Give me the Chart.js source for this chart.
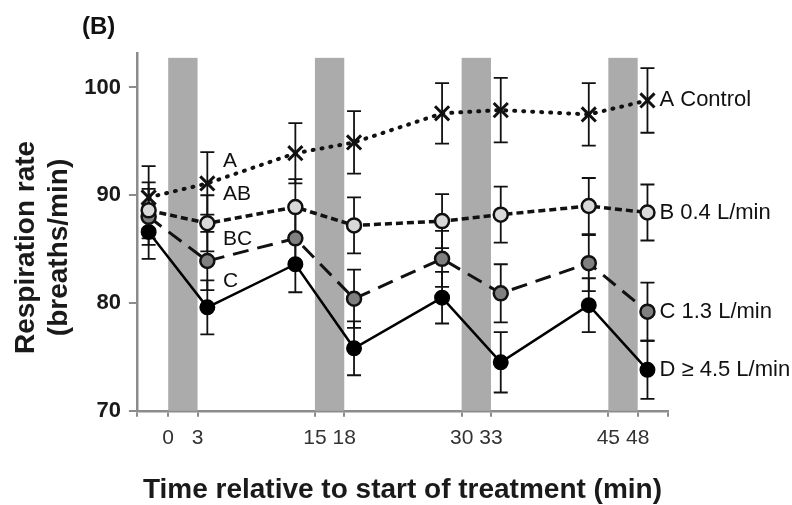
<!DOCTYPE html>
<html lang="en">
<head>
    <meta charset="UTF-8">
    <script src="https://cdn.jsdelivr.net/npm/chart.js"></script>
    <title>Respiration rate</title>
    <style>
        body {
            margin: 0;
            padding: 0;
            background-color: #ffffff;
        }

        .chart-box {
            width: 792px;
            height: 505px;
            position: relative;
        }
    </style>
</head>
<body>
    <div class="chart-box">
        <canvas id="respChart"></canvas>
    </div>

    <script>
        // Dados
        const times = [-2, 4, 13, 19, 28, 34, 43, 49];
        const xTicks = [0, 3, 15, 18, 30, 33, 45, 48];
        const yTicks = [70, 80, 90, 100];
        const bandStarts = [0, 15, 30, 45];
        const bandLength = 3;

        const controlRate = [89.8, 91.1, 93.9, 94.9, 97.6, 97.9, 97.5, 98.8];
        const controlErr = [2.9, 2.9, 2.8, 2.9, 2.8, 3.0, 2.9, 3.0];
        const flow04Rate = [88.6, 87.4, 88.9, 87.2, 87.6, 88.2, 89.0, 88.4];
        const flow04Err = [2.6, 2.6, 2.6, 2.6, 2.5, 2.6, 2.6, 2.6];
        const flow13Rate = [88.0, 83.9, 86.0, 80.4, 84.1, 80.9, 83.7, 79.2];
        const flow13Err = [2.6, 2.7, 2.6, 2.7, 2.6, 2.7, 2.6, 2.7];
        const flow45Rate = [86.6, 79.6, 83.6, 75.8, 80.5, 74.5, 79.8, 73.8];
        const flow45Err = [2.5, 2.5, 2.6, 2.5, 2.4, 2.8, 2.5, 2.7];

        const seriesNames = ['A Control', 'B 0.4 L/min', 'C 1.3 L/min', 'D \u2265 4.5 L/min'];
        const groupLabels = ['A', 'AB', 'BC', 'C'];
        const groupLabelX = [5.6, 5.6, 5.6, 5.6];
        const groupLabelY = [93.2, 90.1, 85.9, 82.0];

        const FONT = "'Liberation Sans', Arial, sans-serif";

        function pontos(valores) {
            return times.map((t, i) => ({ x: t, y: valores[i] }));
        }

        const overlayPlugin = {
            id: 'overlay',
            beforeDatasetsDraw(chart) {
                const { ctx, scales: { x, y } } = chart;
                ctx.save();
                // faixas cinza
                ctx.fillStyle = '#ababab';
                const top = y.getPixelForValue(102.75);
                const bottom = y.getPixelForValue(70);
                bandStarts.forEach(s => {
                    const x0 = x.getPixelForValue(s);
                    const x1 = x.getPixelForValue(s + bandLength);
                    ctx.fillRect(x0, top, x1 - x0, bottom - top);
                });
                // barras de erro
                ctx.strokeStyle = '#111111';
                ctx.lineWidth = 1.8;
                chart.data.datasets.forEach(ds => {
                    ds.data.forEach((p, i) => {
                        const e = ds.errors[i];
                        const px = x.getPixelForValue(p.x);
                        const yHi = y.getPixelForValue(p.y + e);
                        const yLo = y.getPixelForValue(p.y - e);
                        ctx.beginPath();
                        ctx.moveTo(px, yHi);
                        ctx.lineTo(px, yLo);
                        ctx.moveTo(px - 7, yHi);
                        ctx.lineTo(px + 7, yHi);
                        ctx.moveTo(px - 7, yLo);
                        ctx.lineTo(px + 7, yLo);
                        ctx.stroke();
                    });
                });
                ctx.restore();
            },
            afterDatasetsDraw(chart) {
                const { ctx, scales: { x, y } } = chart;
                ctx.save();
                ctx.fillStyle = '#111111';
                ctx.textBaseline = 'middle';
                ctx.textAlign = 'left';
                // nomes das séries à direita
                ctx.font = '22px ' + FONT;
                chart.data.datasets.forEach((ds, i) => {
                    const last = ds.data[ds.data.length - 1];
                    ctx.fillText(seriesNames[i], x.getPixelForValue(last.x) + 12, y.getPixelForValue(last.y));
                });
                // letras de significância
                ctx.font = '21px ' + FONT;
                groupLabels.forEach((txt, i) => {
                    ctx.fillText(txt, x.getPixelForValue(groupLabelX[i]), y.getPixelForValue(groupLabelY[i]));
                });
                // rótulo do painel
                ctx.font = 'bold 24px ' + FONT;
                ctx.fillText('(B)', 82, 27);
                ctx.restore();
            }
        };

        const respChart = new Chart(document.getElementById('respChart').getContext('2d'), {
            type: 'line',
            data: {
                datasets: [
                    {
                        label: seriesNames[0],
                        data: pontos(controlRate),
                        errors: controlErr,
                        borderColor: '#111111',
                        borderWidth: 4,
                        borderDash: [1, 8],
                        borderCapStyle: 'round',
                        pointStyle: 'crossRot',
                        pointRadius: 10,
                        pointBorderWidth: 3,
                        pointBorderColor: '#111111',
                        pointBackgroundColor: '#111111'
                    },
                    {
                        label: seriesNames[1],
                        data: pontos(flow04Rate),
                        errors: flow04Err,
                        borderColor: '#111111',
                        borderWidth: 3.5,
                        borderDash: [7, 4],
                        pointStyle: 'circle',
                        pointRadius: 7,
                        pointBorderWidth: 2.5,
                        pointBorderColor: '#111111',
                        pointBackgroundColor: '#d9d9d9'
                    },
                    {
                        label: seriesNames[2],
                        data: pontos(flow13Rate),
                        errors: flow13Err,
                        borderColor: '#111111',
                        borderWidth: 3,
                        borderDash: [16, 9],
                        pointStyle: 'circle',
                        pointRadius: 7,
                        pointBorderWidth: 2.5,
                        pointBorderColor: '#111111',
                        pointBackgroundColor: '#808080'
                    },
                    {
                        label: seriesNames[3],
                        data: pontos(flow45Rate),
                        errors: flow45Err,
                        borderColor: '#000000',
                        borderWidth: 2.5,
                        pointStyle: 'circle',
                        pointRadius: 7,
                        pointBorderWidth: 2,
                        pointBorderColor: '#000000',
                        pointBackgroundColor: '#000000'
                    }
                ]
            },
            options: {
                responsive: true,
                maintainAspectRatio: false,
                animation: false,
                layout: {
                    padding: { top: 53, right: 124, left: 9, bottom: 0 }
                },
                plugins: {
                    legend: { display: false },
                    tooltip: { enabled: false }
                },
                scales: {
                    x: {
                        type: 'linear',
                        min: -3.2,
                        max: 51.1,
                        afterBuildTicks: axis => {
                            axis.ticks = [-3.2, ...xTicks, 51.1].map(v => ({ value: v }));
                        },
                        ticks: {
                            autoSkip: false,
                            maxRotation: 0,
                            padding: 9,
                            color: '#333333',
                            font: { family: FONT, size: 21 },
                            callback: v => xTicks.includes(v) ? String(v) : ''
                        },
                        grid: {
                            drawOnChartArea: false,
                            drawTicks: true,
                            tickLength: 6,
                            color: '#8c8c8c',
                            lineWidth: 2
                        },
                        border: { display: true, color: '#8c8c8c', width: 2.5 },
                        title: {
                            display: true,
                            text: 'Time relative to start of treatment (min)',
                            color: '#1a1a1a',
                            font: { family: FONT, size: 28, weight: 'bold', lineHeight: 1.0 },
                            padding: { top: 16, bottom: 1 }
                        }
                    },
                    y: {
                        min: 70,
                        max: 103.2,
                        afterBuildTicks: axis => {
                            axis.ticks = yTicks.map(v => ({ value: v }));
                        },
                        ticks: {
                            padding: 8,
                            color: '#1a1a1a',
                            font: { family: FONT, size: 22, weight: 'bold' }
                        },
                        grid: {
                            drawOnChartArea: false,
                            drawTicks: true,
                            tickLength: 8,
                            color: '#8c8c8c',
                            lineWidth: 2
                        },
                        border: { display: true, color: '#8c8c8c', width: 2.5 },
                        title: {
                            display: true,
                            text: ['Respiration rate    ', '(breaths/min)    '],
                            color: '#1a1a1a',
                            font: { family: FONT, size: 28, weight: 'bold', lineHeight: 1.2 },
                            padding: { top: 0, bottom: 0 }
                        }
                    }
                }
            },
            plugins: [overlayPlugin]
        });
    </script>
</body>
</html>
